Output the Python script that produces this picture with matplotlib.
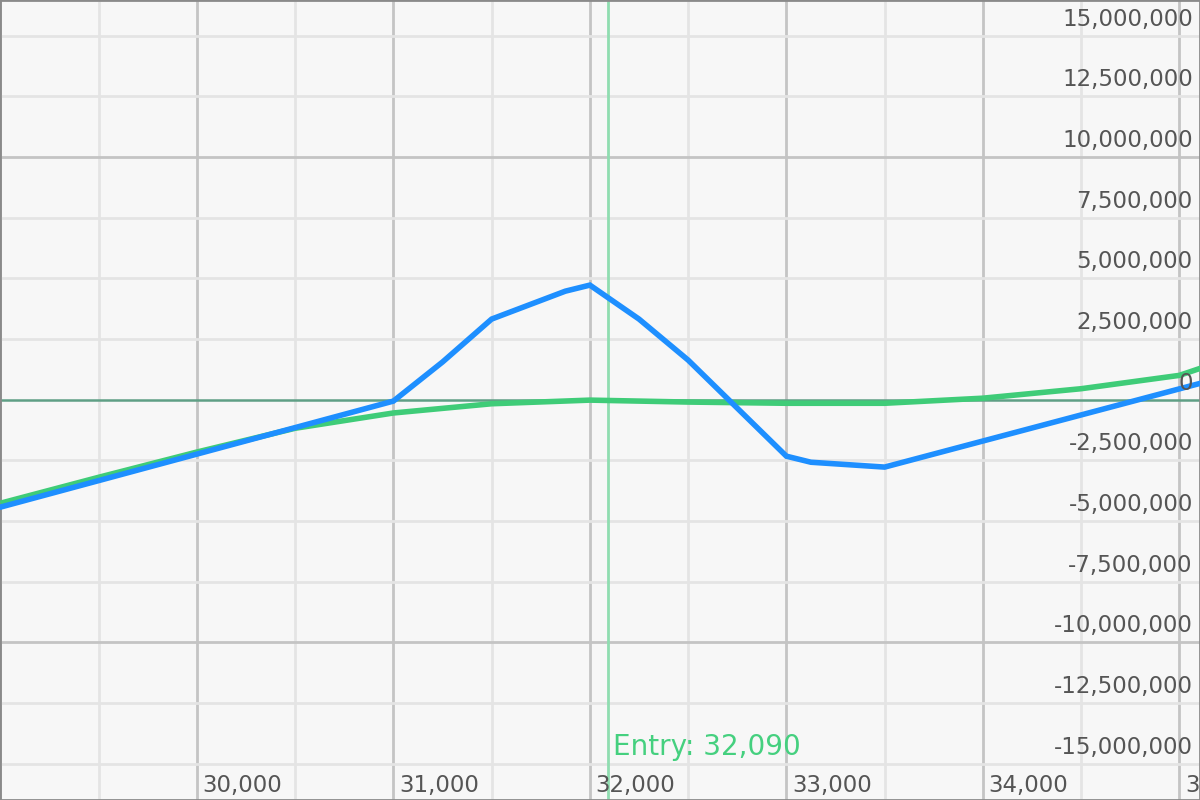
import matplotlib.pyplot as plt
from matplotlib.transforms import blended_transform_factory, offset_copy

# Blue P&L curve (at expiry / strategy)
blue_x = [29000, 31000, 31250, 31500, 31875, 32000, 32250, 32500, 32750, 33000, 33125, 33500, 35110]
blue_y = [-4.43e6, -0.06e6, 1.55e6, 3.32e6, 4.47e6, 4.72e6, 3.32e6, 1.63e6, -0.35e6, -2.33e6, -2.58e6, -2.78e6, 0.68e6]

# Green P&L curve (today)
green_x = [29000, 29500, 30000, 30500, 31000, 31500, 32000, 32500, 33000, 33500, 34000, 34500, 35000, 35110]
green_y = [-4.27e6, -3.2e6, -2.16e6, -1.18e6, -0.55e6, -0.17e6, -0.02e6, -0.1e6, -0.15e6, -0.15e6, 0.06e6, 0.45e6, 1.0e6, 1.3e6]

entry_price = 32090
x_ticks = [30000, 31000, 32000, 33000, 34000, 35000]
y_ticks = [15e6, 12.5e6, 10e6, 7.5e6, 5e6, 2.5e6, 0, -2.5e6, -5e6, -7.5e6, -10e6, -12.5e6, -15e6]

x_min, x_max = 28998, 35105
y_min, y_max = -16.5e6, 16.47e6

plt.rcParams['font.family'] = ['DejaVu Sans']

fig = plt.figure(figsize=(12, 8), dpi=100)
ax = fig.add_axes([0, 0, 1, 1])
ax.set_facecolor('#f7f7f7')
ax.set_xlim(x_min, x_max)
ax.set_ylim(y_min, y_max)

# grid lines
for gx in range(29000, 35500, 500):
    major = gx % 1000 == 0
    ax.axvline(gx, color='#c4c4c4' if major else '#e4e4e4', lw=2, zorder=1)
for gy in y_ticks:
    if gy == 0:
        continue
    major = gy % 10e6 == 0
    ax.axhline(gy, color='#c4c4c4' if major else '#e4e4e4', lw=2, zorder=1)

# zero line and entry line
ax.axhline(0, color='#5f9f85', lw=1.8, zorder=2)
ax.axvline(entry_price, color='#8fddb0', lw=2, zorder=2)

ax.plot(green_x, green_y, color='#3fcc78', lw=4, zorder=3, solid_capstyle='butt')
ax.plot(blue_x, blue_y, color='#1e8fff', lw=4, zorder=4, solid_joinstyle='miter')

# tick labels drawn inside the plot
ty = offset_copy(blended_transform_factory(ax.transAxes, ax.transData), fig=fig, y=5, units='dots')
for v in y_ticks:
    ax.text(0.994, v, f"{v:,.0f}", transform=ty, ha='right', va='bottom',
            fontsize=16.5, color='#555555', zorder=5)
tx = blended_transform_factory(ax.transData, ax.transAxes)
for v in x_ticks:
    ax.text(v + 30, 0.004, f"{v:,}", transform=tx, ha='left', va='bottom',
            fontsize=16.5, color='#555555', zorder=5)

ax.text(entry_price + 30, -14.3e6, f"Entry: {entry_price:,}", ha='left', va='center',
        fontsize=20, color='#45d07f', zorder=5)

ax.set_xticks([])
ax.set_yticks([])
for s in ax.spines.values():
    s.set_color('#8a8a8a')
    s.set_linewidth(2)

fig.savefig('out.png', dpi=100)
